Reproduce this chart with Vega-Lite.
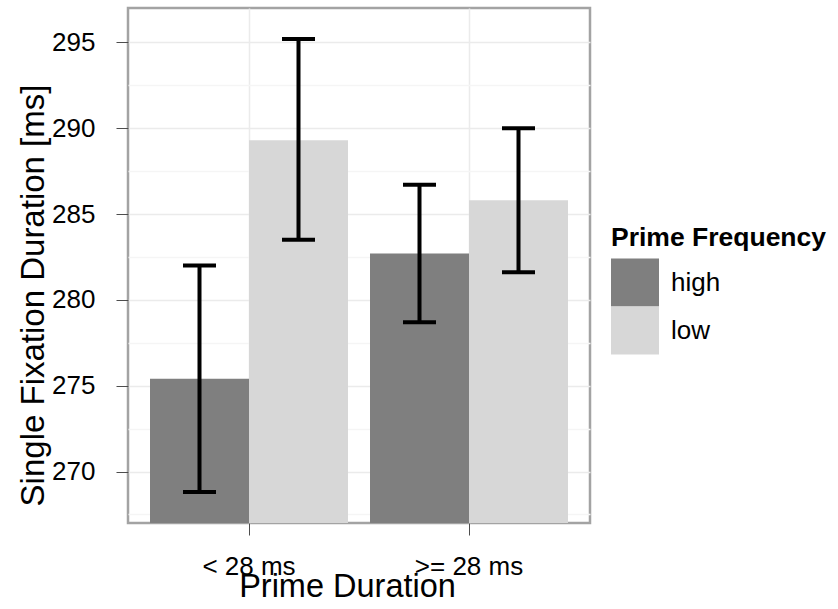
{
  "$schema": "https://vega.github.io/schema/vega-lite/v6.json",
  "width": 462,
  "height": 515,
  "autosize": {"type": "none"},
  "padding": {"left": 128, "top": 8, "right": 248, "bottom": 86},
  "background": "white",
  "config": {
    "font": "Liberation Sans",
    "view": {"stroke": "#a3a3a3", "strokeWidth": 2.5}
  },
  "data": {
    "values": [
      {"duration": "< 28 ms", "freq": "high", "mean": 275.4, "lo": 268.8, "hi": 282.0},
      {"duration": "< 28 ms", "freq": "low", "mean": 289.3, "lo": 283.5, "hi": 295.2},
      {"duration": ">= 28 ms", "freq": "high", "mean": 282.7, "lo": 278.7, "hi": 286.7},
      {"duration": ">= 28 ms", "freq": "low", "mean": 285.8, "lo": 281.6, "hi": 290.0}
    ]
  },
  "encoding": {
    "x": {
      "field": "duration",
      "type": "nominal",
      "sort": ["< 28 ms", ">= 28 ms"],
      "scale": {"paddingInner": 0.1, "paddingOuter": 0.1},
      "axis": {
        "title": "Prime Duration",
        "titleFontSize": 32.5,
        "titleFontWeight": "normal",
        "titleColor": "black",
        "titleX": 219,
        "titleY": 73,
        "titleBaseline": "alphabetic",
        "labelFontSize": 26,
        "labelColor": "black",
        "labelAngle": 0,
        "labelBaseline": "alphabetic",
        "labelPadding": 39,
        "tickSize": 12,
        "tickColor": "#4d4d4d",
        "tickWidth": 1,
        "domain": false,
        "grid": true,
        "gridColor": "#ebebeb",
        "gridWidth": 1.5
      }
    },
    "xOffset": {
      "field": "freq",
      "type": "nominal",
      "sort": ["high", "low"],
      "scale": {"paddingInner": 0, "paddingOuter": 0}
    }
  },
  "layer": [
    {
      "mark": {"type": "bar", "clip": true},
      "encoding": {
        "y": {
          "field": "mean",
          "type": "quantitative",
          "scale": {"domain": [267, 297], "zero": false, "nice": false},
          "axis": {
            "title": "Single Fixation Duration [ms]",
            "titleFontSize": 33,
            "titleFontWeight": "normal",
            "titleColor": "black",
            "titleX": -85,
            "titleY": 287,
            "titleBaseline": "alphabetic",
            "values": [267.5, 270, 272.5, 275, 277.5, 280, 282.5, 285, 287.5, 290, 292.5, 295],
            "labelExpr": "datum.value % 5 === 0 ? datum.label : ''",
            "labelFontSize": 26,
            "labelColor": "black",
            "labelPadding": 21,
            "tickSize": 12,
            "tickColor": "#4d4d4d",
            "tickOpacity": {"condition": {"test": "datum.value % 5 === 0", "value": 1}, "value": 0},
            "domain": false,
            "grid": true,
            "gridColor": {"condition": {"test": "datum.value % 5 === 0", "value": "#ebebeb"}, "value": "#f5f5f5"},
            "gridWidth": 1.5
          }
        },
        "color": {
          "field": "freq",
          "type": "nominal",
          "sort": ["high", "low"],
          "scale": {"domain": ["high", "low"], "range": ["#7f7f7f", "#d7d7d7"]},
          "legend": {
            "title": "Prime Frequency",
            "orient": "none",
            "legendX": 483,
            "legendY": 217,
            "titleFontSize": 26.5,
            "titleFontWeight": "bold",
            "titleColor": "black",
            "titleLimit": 400,
            "titlePadding": 7,
            "labelFontSize": 26,
            "labelColor": "black",
            "labelOffset": 12,
            "labelLimit": 300,
            "symbolType": "square",
            "symbolSize": 2304,
            "symbolStrokeWidth": 0,
            "rowPadding": 0
          }
        }
      }
    },
    {
      "mark": {"type": "rule", "color": "black", "strokeWidth": 4},
      "encoding": {
        "y": {"field": "lo", "type": "quantitative"},
        "y2": {"field": "hi"}
      }
    },
    {
      "mark": {"type": "tick", "color": "black", "thickness": 4, "size": 33, "opacity": 1},
      "encoding": {
        "y": {"field": "lo", "type": "quantitative"}
      }
    },
    {
      "mark": {"type": "tick", "color": "black", "thickness": 4, "size": 33, "opacity": 1},
      "encoding": {
        "y": {"field": "hi", "type": "quantitative"}
      }
    }
  ]
}
